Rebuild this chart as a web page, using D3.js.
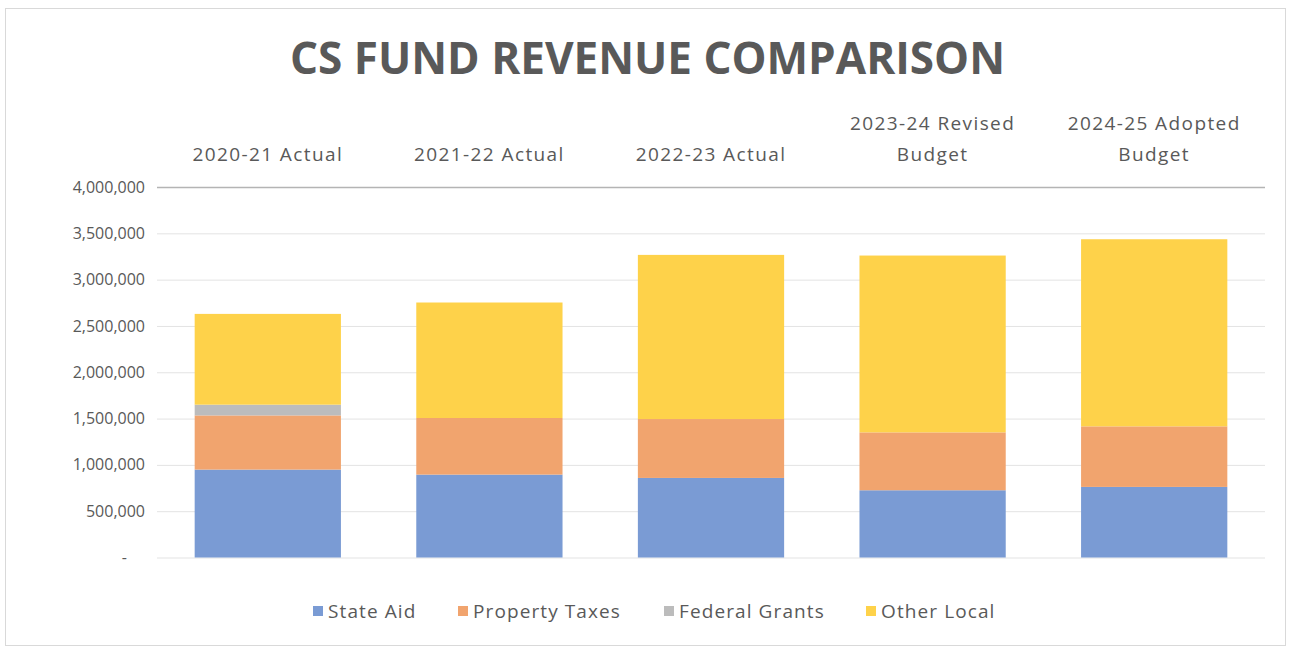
<!DOCTYPE html>
<html lang="en">
<head>
    <meta charset="UTF-8">
    <title>CS Fund Revenue Comparison</title>
    <script src="https://d3js.org/d3.v7.min.js"></script>
    <style>
        body { margin: 0; background: #fff; }
        text { font-family: "Open Sans", "Noto Sans", sans-serif; fill: #595959; }
        .grid line { stroke: #e3e3e3; }
        .grid .domain { display: none; }
    </style>
</head>
<body>
<script>
    const width = 1293;
    const height = 650;

    // data
    const years = [
        ["2020-21 Actual"],
        ["2021-22 Actual"],
        ["2022-23 Actual"],
        ["2023-24 Revised", "Budget"],
        ["2024-25 Adopted", "Budget"]
    ];
    const seriesNames = ["State Aid", "Property Taxes", "Federal Grants", "Other Local"];
    const stateAid      = [949000, 895000, 859000, 726000, 762000];
    const propertyTaxes = [585000, 611000, 636000, 625000, 654000];
    const federalGrants = [116000, 0, 0, 0, 0];
    const otherLocal    = [980000, 1247000, 1772000, 1909000, 2020000];
    const yTicks = [0, 500000, 1000000, 1500000, 2000000, 2500000, 3000000, 3500000, 4000000];
    const colors = ["#7a9bd4", "#f1a46e", "#bcbcbc", "#fed24a"];

    const margin = {left: 157, right: 28, top: 187, bottom: 92};

    const svg = d3.select("body").append("svg")
            .attr("width", width).attr("height", height);

    // outer frame
    svg.append("rect")
        .attr("x", 5.5).attr("y", 8.5)
        .attr("width", 1280).attr("height", 637)
        .attr("fill", "none").attr("stroke", "#d9d9d9");

    const rows = years.map((y, i) => ({
        key: i,
        "State Aid": stateAid[i],
        "Property Taxes": propertyTaxes[i],
        "Federal Grants": federalGrants[i],
        "Other Local": otherLocal[i]
    }));

    const x = d3.scaleBand()
        .domain(d3.range(years.length))
        .range([margin.left, width - margin.right])
        .paddingInner(0.34)
        .paddingOuter(0.17);

    const y = d3.scaleLinear()
        .domain([0, 4000000])
        .range([height - margin.bottom - 0.5, margin.top]);

    // gridlines
    svg.append("g")
        .attr("class", "grid")
        .attr("transform", `translate(${margin.left},0)`)
        .call(d3.axisLeft(y).tickValues(yTicks).tickSize(-(width - margin.left - margin.right)).tickFormat(""));

    // y labels
    const fmt = d3.format(",");
    svg.append("g").selectAll("text")
        .data(yTicks)
        .join("text")
        .attr("x", d => d === 0 ? 127 : 145)
        .attr("y", d => y(d))
        .attr("dy", "0.35em")
        .attr("text-anchor", "end")
        .style("font-size", "16px")
        .text(d => d === 0 ? "-" : fmt(d));

    // stacked bars
    const stack = d3.stack().keys(seriesNames)(rows);
    svg.append("g").selectAll("g")
        .data(stack)
        .join("g")
        .attr("fill", (d, i) => colors[i])
        .selectAll("rect")
        .data(d => d)
        .join("rect")
        .attr("x", d => x(d.data.key))
        .attr("width", x.bandwidth())
        .attr("y", d => y(d[1]))
        .attr("height", d => y(d[0]) - y(d[1]));

    // category axis line at top
    svg.append("line")
        .attr("x1", margin.left).attr("x2", width - margin.right)
        .attr("y1", margin.top + 0.5).attr("y2", margin.top + 0.5)
        .attr("stroke", "#b4b4b4").attr("stroke-width", 1.5);

    // category labels, bottom aligned to the top axis
    const cat = svg.append("g").selectAll("text")
        .data(years)
        .join("text")
        .attr("text-anchor", "middle")
        .style("font-size", "19px")
        .style("letter-spacing", "1.4px");
    cat.each(function(lines, i) {
        const t = d3.select(this);
        lines.forEach((ln, j) => {
            t.append("tspan")
                .attr("x", x(i) + x.bandwidth() / 2)
                .attr("y", 161 - (lines.length - 1 - j) * 31)
                .text(ln);
        });
    });

    // title
    svg.append("text")
        .attr("x", width / 2 + 1)
        .attr("y", 74)
        .attr("text-anchor", "middle")
        .attr("textLength", 715)
        .attr("lengthAdjust", "spacingAndGlyphs")
        .style("font-size", "45px")
        .style("font-weight", "bold")
        .text("CS FUND REVENUE COMPARISON");

    // legend
    const legendX = [313, 458, 664, 866];
    const legend = svg.append("g").selectAll("g")
        .data(seriesNames)
        .join("g")
        .attr("transform", (d, i) => `translate(${legendX[i]},611)`);
    legend.append("rect")
        .attr("x", 0).attr("y", -5)
        .attr("width", 10).attr("height", 10)
        .attr("fill", (d, i) => colors[i]);
    legend.append("text")
        .attr("x", 15).attr("y", 0)
        .attr("dy", "0.35em")
        .style("font-size", "19px")
        .style("letter-spacing", "1.1px")
        .text(d => d);
</script>
</body>
</html>
